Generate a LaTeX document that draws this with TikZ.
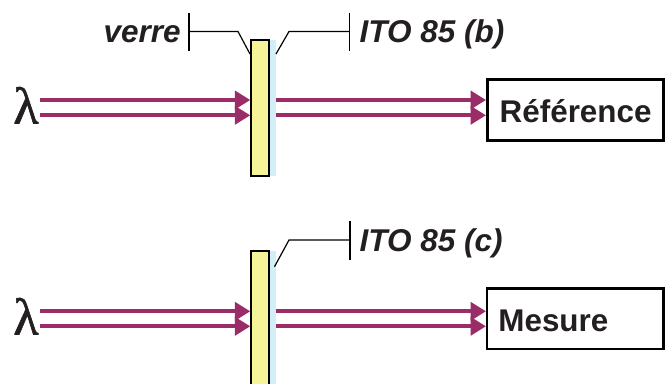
\documentclass[tikz,border=0pt]{standalone}
\usepackage{fontspec}
\setmainfont{Liberation Sans}
\newfontfamily\lamfont[FakeBold=1.2]{Liberation Serif}
\usetikzlibrary{arrows.meta}
\definecolor{beamc}{HTML}{9A2D68}
\definecolor{glassc}{HTML}{F6F498}
\definecolor{itoc}{HTML}{D2EEF6}
\definecolor{inkc}{HTML}{231F20}
\tikzset{
  x=1pt,y=-1pt,
  beam/.style={draw=beamc,line width=3.8pt,-{Triangle[length=15.5pt,width=18pt,fill=beamc]}},
  glassbox/.style={draw=black,line width=1.8pt,fill=glassc,rectangle,inner sep=0pt,outer sep=0pt,anchor=north west,minimum width=17.6pt},
  itolayer/.style={fill=itoc,draw=none,rectangle,inner sep=0pt,outer sep=0pt,anchor=north west,minimum width=8pt},
  leader/.style={draw=black,line width=1.2pt},
  lbl/.style={font=\fontsize{31.5}{31.5}\selectfont\bfseries\itshape,text=inkc,inner sep=0pt,anchor=base west},
  lam/.style={font=\lamfont\fontsize{52}{52}\selectfont,text=inkc,inner sep=0pt,anchor=base},
  resbox/.style={draw=black,line width=2.6pt,fill=white,rectangle,inner sep=0pt,outer sep=0pt,anchor=north west,minimum width=176.2pt,minimum height=60.7pt},
  restxt/.style={font=\fontsize{31.4}{31.4}\selectfont\bfseries,text=inkc,inner sep=0pt,anchor=base west}
}
\begin{document}
\begin{tikzpicture}
\useasboundingbox (0,0) rectangle (666,383);
\clip (0,0) rectangle (666,383);
% top
\node[itolayer,minimum height=136pt] (itoa) at (268,40) {};
\node[glassbox,minimum height=135.7pt] (glassa) at (251.2,39.9) {};
\node[resbox] (ref) at (487.3,79.7) {};
\node[restxt] (reft) at (499.5,122.2) {Référence};
\node[lam] (lama) at (26,123.5) {λ};
\coordinate (a1) at (39.5,100); \coordinate (a2) at (39.5,115.3);
\coordinate (a3) at (250.3,100); \coordinate (a4) at (250.3,115.3);
\coordinate (a5) at (276,100); \coordinate (a6) at (276,115.3);
\coordinate (a7) at (486,100); \coordinate (a8) at (486,115.3);
\draw[beam] (a1) -- (a3);
\draw[beam] (a2) -- (a4);
\draw[beam] (a5) -- (a7);
\draw[beam] (a6) -- (a8);
\node[lbl] (verre) at (103.5,42.7) {verre};
\node[lbl] (itob) at (359.5,42.7) {ITO 85 (b)};
\coordinate (v1) at (189,12.5); \coordinate (v2) at (189,51);
\coordinate (v3) at (189,31.5); \coordinate (v4) at (238,31.5); \coordinate (v5) at (250,54);
\draw[leader] (v1) -- (v2);
\draw[leader] (v3) -- (v4) -- (v5);
\coordinate (b1) at (349.7,12.5); \coordinate (b2) at (349.7,51);
\coordinate (b3) at (349.7,31.5); \coordinate (b4) at (289,31.5); \coordinate (b5) at (276,54);
\draw[leader] (b1) -- (b2);
\draw[leader] (b3) -- (b4) -- (b5);
% bottom
\node[itolayer,minimum height=140pt] (itoc) at (268,251) {};
\node[glassbox,minimum height=140pt] (glassb) at (251.2,251) {};
\node[resbox] (mes) at (487,288.4) {};
\node[restxt] (mest) at (498.2,331.2) {Mesure};
\node[lam] (lamb) at (26,334.5) {λ};
\coordinate (c1) at (39.5,311.3); \coordinate (c2) at (39.5,326.3);
\coordinate (c3) at (250.3,311.3); \coordinate (c4) at (250.3,326.3);
\coordinate (c5) at (276,311.3); \coordinate (c6) at (276,326.3);
\coordinate (c7) at (486,311.3); \coordinate (c8) at (486,326.3);
\draw[beam] (c1) -- (c3);
\draw[beam] (c2) -- (c4);
\draw[beam] (c5) -- (c7);
\draw[beam] (c6) -- (c8);
\node[lbl] (itoct) at (359.5,251.7) {ITO 85 (c)};
\coordinate (d1) at (350,220.7); \coordinate (d2) at (350,259.5);
\coordinate (d3) at (350,240); \coordinate (d4) at (289,240); \coordinate (d5) at (274.5,266.7);
\draw[leader] (d1) -- (d2);
\draw[leader] (d3) -- (d4) -- (d5);
\end{tikzpicture}
\end{document}
